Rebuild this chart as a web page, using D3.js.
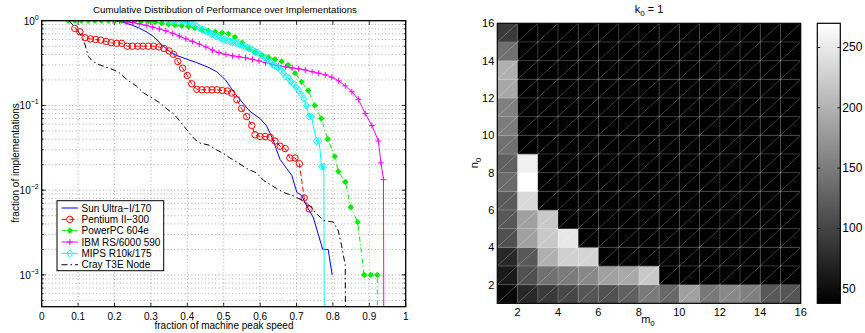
<!doctype html>
<html>
<head>
<meta charset="utf-8">
<title>Performance over implementations</title>
<script src="https://cdn.jsdelivr.net/npm/d3@7"></script>
<style>
body{margin:0;background:#fff;}
text{font-family:"Liberation Sans",Arial,sans-serif;fill:#000;}
</style>
</head>
<body>
<script>

var w = 865, h = 333;

// CUMULATIVE DISTRIBUTIONS  [fraction of peak, fraction of implementations]
var sunUltra = [[0.196,1],[0.215,0.98],[0.233,0.93],[0.25,0.88],[0.27,0.81],[0.29,0.73],[0.307,0.65],[0.325,0.55],[0.334,0.50],[0.352,0.43],[0.37,0.39],[0.4,0.35],[0.426,0.32],[0.455,0.285],[0.481,0.25],[0.505,0.2],[0.526,0.147],[0.55,0.11],[0.572,0.085],[0.6,0.07],[0.618,0.057],[0.635,0.04],[0.645,0.03],[0.655,0.023],[0.673,0.018],[0.687,0.015],[0.701,0.0094],[0.714,0.0087],[0.728,0.0065],[0.746,0.0048],[0.76,0.003],[0.772,0.002],[0.787,0.002],[0.798,0.001]];

var pentium = [[0.091,0.81],[0.105,0.74],[0.119,0.63],[0.134,0.61],[0.148,0.60],[0.162,0.59],[0.177,0.57],[0.191,0.55],[0.206,0.54],[0.22,0.54],[0.235,0.50],[0.249,0.50],[0.264,0.50],[0.278,0.50],[0.293,0.50],[0.307,0.50],[0.322,0.49],[0.336,0.47],[0.35,0.44],[0.362,0.40],[0.374,0.33],[0.387,0.275],[0.40,0.226],[0.412,0.18],[0.426,0.155],[0.44,0.153],[0.454,0.153],[0.468,0.153],[0.482,0.153],[0.496,0.15],[0.51,0.148],[0.522,0.14],[0.536,0.117],[0.549,0.092],[0.563,0.074],[0.577,0.058],[0.586,0.045],[0.6,0.043],[0.614,0.043],[0.628,0.042],[0.641,0.038],[0.655,0.033],[0.669,0.031],[0.682,0.024],[0.696,0.024],[0.708,0.0205],[0.721,0.0081],[0.735,0.006]];

var powerPC = [[0.073,1],[0.091,1],[0.109,1],[0.128,1],[0.146,1],[0.164,1],[0.183,1],[0.201,1],[0.219,1],[0.238,1],[0.256,1],[0.274,0.99],[0.293,0.98],[0.311,0.96],[0.33,0.93],[0.348,0.91],[0.366,0.89],[0.385,0.87],[0.403,0.85],[0.421,0.82],[0.44,0.78],[0.458,0.76],[0.476,0.74],[0.495,0.72],[0.513,0.70],[0.531,0.64],[0.55,0.55],[0.568,0.47],[0.586,0.42],[0.604,0.39],[0.623,0.37],[0.641,0.35],[0.659,0.33],[0.677,0.30],[0.696,0.24],[0.714,0.19],[0.732,0.15],[0.75,0.10],[0.768,0.07],[0.786,0.04],[0.805,0.025],[0.815,0.0166],[0.834,0.0125],[0.849,0.0063],[0.868,0.0042],[0.886,0.001],[0.904,0.001],[0.922,0.001],[0.923,0]];

var ibm = [[0.196,1],[0.214,0.99],[0.232,0.97],[0.25,0.95],[0.268,0.92],[0.287,0.88],[0.305,0.84],[0.323,0.80],[0.341,0.76],[0.36,0.71],[0.378,0.66],[0.396,0.61],[0.414,0.57],[0.433,0.53],[0.451,0.49],[0.469,0.45],[0.487,0.42],[0.506,0.40],[0.524,0.385],[0.542,0.375],[0.56,0.365],[0.579,0.35],[0.597,0.335],[0.615,0.32],[0.633,0.305],[0.651,0.295],[0.67,0.285],[0.688,0.277],[0.706,0.27],[0.724,0.262],[0.743,0.25],[0.761,0.24],[0.779,0.23],[0.797,0.215],[0.816,0.195],[0.834,0.17],[0.852,0.145],[0.87,0.118],[0.889,0.08],[0.907,0.058],[0.925,0.038],[0.932,0.021],[0.939,0.0133],[0.941,0]];

var mips = [[0.348,1],[0.355,1],[0.362,1],[0.369,1],[0.376,1],[0.384,1],[0.391,0.99],[0.398,0.98],[0.405,0.96],[0.412,0.93],[0.419,0.9],[0.426,0.86],[0.433,0.82],[0.44,0.79],[0.447,0.77],[0.454,0.74],[0.461,0.72],[0.468,0.69],[0.475,0.67],[0.482,0.65],[0.489,0.63],[0.496,0.61],[0.503,0.60],[0.51,0.58],[0.517,0.57],[0.524,0.56],[0.531,0.55],[0.538,0.54],[0.545,0.52],[0.552,0.51],[0.559,0.49],[0.566,0.48],[0.573,0.47],[0.58,0.45],[0.587,0.43],[0.594,0.42],[0.601,0.40],[0.608,0.38],[0.615,0.36],[0.622,0.34],[0.629,0.32],[0.636,0.30],[0.643,0.29],[0.65,0.28],[0.657,0.26],[0.664,0.24],[0.671,0.22],[0.678,0.21],[0.685,0.19],[0.692,0.18],[0.699,0.165],[0.706,0.15],[0.713,0.135],[0.72,0.12],[0.727,0.10],[0.734,0.074],[0.741,0.074],[0.755,0.038],[0.762,0.038],[0.769,0.019],[0.775,0.019],[0.778,0]];

var crayT3E = [[0.075,1],[0.09,0.85],[0.105,0.7],[0.115,0.6],[0.122,0.47],[0.128,0.38],[0.14,0.33],[0.16,0.30],[0.19,0.27],[0.21,0.25],[0.235,0.2],[0.26,0.17],[0.28,0.14],[0.3,0.125],[0.325,0.107],[0.345,0.09],[0.362,0.08],[0.38,0.065],[0.398,0.052],[0.42,0.04],[0.435,0.036],[0.46,0.034],[0.48,0.03],[0.5,0.027],[0.517,0.024],[0.54,0.021],[0.563,0.018],[0.59,0.016],[0.61,0.013],[0.627,0.0117],[0.645,0.0105],[0.664,0.0094],[0.691,0.0086],[0.71,0.0078],[0.737,0.0065],[0.755,0.0053],[0.774,0.0044],[0.801,0.0042],[0.815,0.0033],[0.824,0.0022],[0.834,0.0013],[0.836,0]];

var seriesNames = ["Sun Ultra\u2212I/170","Pentium II\u2212300","PowerPC 604e","IBM RS/6000 590","MIPS R10k/175","Cray T3E Node"];
var xTicks = [0,0.1,0.2,0.3,0.4,0.5,0.6,0.7,0.8,0.9,1];
var yTicks = [1,0.1,0.01,0.001];
var yTickExp = ["0","\u22121","\u22122","\u22123"];

// HEATMAP  rows n0 = 1..15, columns m0 = 1..15
var heatRows = [
  [45,74,91,103,115,111,125,149,133,184,147,162,154,118,115],
  [62,111,140,149,162,184,191,220,38,38,38,38,38,38,38],
  [74,118,198,227,231,38,38,38,38,38,38,38,38,38,38],
  [111,184,220,249,38,38,38,38,38,38,38,38,38,38,38],
  [118,184,220,38,38,38,38,38,38,38,38,38,38,38,38],
  [120,235,38,38,38,38,38,38,38,38,38,38,38,38,38],
  [134,270,38,38,38,38,38,38,38,38,38,38,38,38,38],
  [125,256,38,38,38,38,38,38,38,38,38,38,38,38,38],
  [140,38,38,38,38,38,38,38,38,38,38,38,38,38,38],
  [151,38,38,38,38,38,38,38,38,38,38,38,38,38,38],
  [154,38,38,38,38,38,38,38,38,38,38,38,38,38,38],
  [191,38,38,38,38,38,38,38,38,38,38,38,38,38,38],
  [198,38,38,38,38,38,38,38,38,38,38,38,38,38,38],
  [140,38,38,38,38,38,38,38,38,38,38,38,38,38,38],
  [91,38,38,38,38,38,38,38,38,38,38,38,38,38,38]
];
var mTicks = [2,4,6,8,10,12,14,16];
var nTicks = [2,4,6,8,10,12,14,16];
var cbTicks = [50,100,150,200,250];
var cbRange = [38,270];


//CREATING SVG
var svg = d3.select("body").append("svg").attr("width", w).attr("height", h);


//LEFT PLOT SCALES
var L = {left:41.7, right:405.7, top:20.7, bottom:306.7};
var x = d3.scaleLinear().domain([0,1]).range([L.left, L.right]);
var y = d3.scaleLog().domain([Math.pow(10,-3.375),1]).range([L.bottom, L.top]);

svg.append("clipPath").attr("id","clipL").append("rect")
   .attr("x",L.left).attr("y",L.top).attr("width",L.right-L.left).attr("height",L.bottom-L.top);

//GRID
var minorVals = [];
for (var k=-4; k<=0; k++){
	for (var m=1; m<10; m++){
		var v = m*Math.pow(10,k);
		if (v>y.domain()[0] && v<1) minorVals.push(v);
	}
}
svg.append("g").selectAll("line").data(minorVals).enter().append("line")
   .attr("x1",L.left).attr("x2",L.right)
   .attr("y1",function(d){return y(d);}).attr("y2",function(d){return y(d);})
   .attr("stroke","#888").attr("stroke-width",0.7).attr("stroke-dasharray","1,2.4");
svg.append("g").selectAll("line").data(xTicks.slice(1,-1)).enter().append("line")
   .attr("y1",L.top).attr("y2",L.bottom)
   .attr("x1",function(d){return x(d);}).attr("x2",function(d){return x(d);})
   .attr("stroke","#888").attr("stroke-width",0.7).attr("stroke-dasharray","1,2.4");

//TICKS
var tk = svg.append("g").attr("stroke","#000").attr("stroke-width",0.8);
xTicks.forEach(function(d){
	tk.append("line").attr("x1",x(d)).attr("x2",x(d)).attr("y1",L.bottom).attr("y2",L.bottom-4);
	tk.append("line").attr("x1",x(d)).attr("x2",x(d)).attr("y1",L.top).attr("y2",L.top+4);
});
minorVals.forEach(function(d){
	tk.append("line").attr("x1",L.left).attr("x2",L.left+2).attr("y1",y(d)).attr("y2",y(d));
	tk.append("line").attr("x1",L.right).attr("x2",L.right-2).attr("y1",y(d)).attr("y2",y(d));
});
yTicks.forEach(function(d){
	tk.append("line").attr("x1",L.left).attr("x2",L.left+4).attr("y1",y(d)).attr("y2",y(d));
	tk.append("line").attr("x1",L.right).attr("x2",L.right-4).attr("y1",y(d)).attr("y2",y(d));
});

svg.append("g").selectAll("text").data(xTicks).enter().append("text")
   .text(function(d){return d;})
   .attr("x",function(d){return x(d);}).attr("y",L.bottom+13)
   .attr("font-size","10px").attr("text-anchor","middle");

var yl = svg.append("g").selectAll("text").data(yTicks).enter().append("text")
   .attr("x",L.left-3).attr("y",function(d){return y(d)+4;})
   .attr("font-size","10px").attr("text-anchor","end");
yl.append("tspan").text("10");
yl.append("tspan").text(function(d,i){return yTickExp[i];})
   .attr("font-size","7px").attr("dy","-5");

//CURVES
var line = d3.line()
	.x(function(d){return x(d[0]);})
	.y(function(d){return y(Math.max(d[1],1e-6));});

var seriesData = [sunUltra, pentium, powerPC, ibm, mips, crayT3E];
var colours = ["#0000ff","#ff0000","#00ee00","#ff00ff","#00ffff","#000000"];
var dashes = [null,"5,3","5,2.5,1,2.5",null,null,"6,3,1.5,3"];
var markers = [null,"circle","dot","plus","diamond",null];

function drawMarker(g, type, cx, cy, col){
	if(type=="circle"){
		g.append("circle").attr("cx",cx).attr("cy",cy).attr("r",3.2)
		 .attr("fill","none").attr("stroke",col).attr("stroke-width",1);
	}else if(type=="dot"){
		g.append("circle").attr("cx",cx).attr("cy",cy).attr("r",2.4).attr("fill",col);
		g.append("path").attr("d","M"+(cx-3)+","+cy+"h6M"+cx+","+(cy-3)+"v6")
		 .attr("stroke",col).attr("stroke-width",1);
	}else if(type=="plus"){
		g.append("path").attr("d","M"+(cx-3)+","+cy+"h6M"+cx+","+(cy-3)+"v6")
		 .attr("stroke",col).attr("stroke-width",1);
	}else if(type=="diamond"){
		g.append("path").attr("d","M"+cx+","+(cy-3.6)+"L"+(cx+3)+","+cy+"L"+cx+","+(cy+3.6)+"L"+(cx-3)+","+cy+"Z")
		 .attr("fill","none").attr("stroke",col).attr("stroke-width",1);
	}
}

var plotG = svg.append("g").attr("clip-path","url(#clipL)");
seriesData.forEach(function(ds,i){
	plotG.append("path").attr("d",line(ds)).attr("fill","none")
	   .attr("stroke",colours[i]).attr("stroke-width",1)
	   .attr("stroke-dasharray",dashes[i]);
	if(markers[i]){
		ds.forEach(function(d){
			if(d[1]>0) drawMarker(plotG, markers[i], x(d[0]), y(d[1]), colours[i]);
		});
	}
});

//BOX
svg.append("rect").attr("x",L.left).attr("y",L.top)
   .attr("width",L.right-L.left).attr("height",L.bottom-L.top)
   .attr("fill","none").attr("stroke","#000").attr("stroke-width",1.3);

//LEGEND
var lg = svg.append("g");
lg.append("rect").attr("x",57).attr("y",200.7).attr("width",106.7).attr("height",70)
  .attr("fill","#fff").attr("stroke","#000").attr("stroke-width",1);
seriesNames.forEach(function(name,i){
	var ly = 208 + i*11.35;
	lg.append("line").attr("x1",61.5).attr("x2",78).attr("y1",ly).attr("y2",ly)
	  .attr("stroke",colours[i]).attr("stroke-width",1).attr("stroke-dasharray",dashes[i]);
	if(markers[i]) drawMarker(lg, markers[i], 69.8, ly, colours[i]);
	lg.append("text").text(name).attr("x",81.5).attr("y",ly+3.6).attr("font-size","10px");
});

//LABELS
svg.append("text").text("Cumulative Distribution of Performance over Implementations")
   .attr("x",225).attr("y",13).attr("font-size","9.7px").attr("text-anchor","middle");
svg.append("text").text("fraction of machine peak speed")
   .attr("x",224).attr("y",329).attr("font-size","10px").attr("text-anchor","middle");
svg.append("text").text("fraction of implementations")
   .attr("transform","translate(18.5,163) rotate(-90)")
   .attr("font-size","10px").attr("text-anchor","middle");


//RIGHT PLOT (HEATMAP)
var R = {left:497.3, right:800.7, top:23.3, bottom:303.3};
var mx = d3.scaleLinear().domain([1,16]).range([R.left, R.right]);
var ny = d3.scaleLinear().domain([1,16]).range([R.bottom, R.top]);
var gray = d3.scaleLinear().domain(cbRange).range(["#000","#fff"]).clamp(true);

var cells = [];
heatRows.forEach(function(row,i){
	row.forEach(function(v,j){ cells.push({m:j+1, n:i+1, v:v}); });
});

var hm = svg.append("g");
hm.selectAll("rect").data(cells).enter().append("rect")
  .attr("x",function(d){return mx(d.m);})
  .attr("y",function(d){return ny(d.n+1);})
  .attr("width",function(d){return mx(d.m+1)-mx(d.m)+0.3;})
  .attr("height",function(d){return ny(d.n)-ny(d.n+1)+0.3;})
  .attr("fill",function(d){return gray(d.v);});

//MESH
var gridVals = d3.range(1,17);
hm.append("g").selectAll("line").data(gridVals).enter().append("line")
  .attr("x1",function(d){return mx(d);}).attr("x2",function(d){return mx(d);})
  .attr("y1",R.top).attr("y2",R.bottom)
  .attr("stroke","rgba(255,255,255,0.22)").attr("stroke-width",1);
hm.append("g").selectAll("line").data(gridVals).enter().append("line")
  .attr("y1",function(d){return ny(d);}).attr("y2",function(d){return ny(d);})
  .attr("x1",R.left).attr("x2",R.right)
  .attr("stroke","rgba(255,255,255,0.22)").attr("stroke-width",1);
hm.append("g").selectAll("line").data(cells).enter().append("line")
  .attr("x1",function(d){return mx(d.m);}).attr("y1",function(d){return ny(d.n);})
  .attr("x2",function(d){return mx(d.m+1);}).attr("y2",function(d){return ny(d.n+1);})
  .attr("stroke","rgba(255,255,255,0.3)").attr("stroke-width",0.8);

svg.append("rect").attr("x",R.left).attr("y",R.top)
   .attr("width",R.right-R.left).attr("height",R.bottom-R.top)
   .attr("fill","none").attr("stroke","#000").attr("stroke-width",1.2);

svg.append("g").selectAll("text").data(mTicks).enter().append("text")
   .text(function(d){return d;})
   .attr("x",function(d){return mx(d);}).attr("y",R.bottom+13)
   .attr("font-size","11px").attr("text-anchor","middle");
svg.append("g").selectAll("text").data(nTicks).enter().append("text")
   .text(function(d){return d;})
   .attr("x",R.left-3).attr("y",function(d){return ny(d)+4;})
   .attr("font-size","11px").attr("text-anchor","end");

var t1 = svg.append("text").attr("x",649).attr("y",13).attr("font-size","11px").attr("text-anchor","middle");
t1.append("tspan").text("k");
t1.append("tspan").text("0").attr("font-size","8px").attr("dy","3");
t1.append("tspan").text(" = 1").attr("dy","-3");

var t2 = svg.append("text").attr("x",648).attr("y",323).attr("font-size","11px").attr("text-anchor","middle");
t2.append("tspan").text("m");
t2.append("tspan").text("0").attr("font-size","8px").attr("dy","3");

var t3 = svg.append("text").attr("transform","translate(478,163) rotate(-90)")
   .attr("font-size","11px").attr("text-anchor","middle");
t3.append("tspan").text("n");
t3.append("tspan").text("0").attr("font-size","8px").attr("dy","3");


//COLORBAR
var CB = {left:817.3, right:840.3, top:23.3, bottom:303.3};
var cy = d3.scaleLinear().domain(cbRange).range([CB.bottom, CB.top]);
var grad = svg.append("defs").append("linearGradient").attr("id","cbGrad")
   .attr("x1","0").attr("y1","1").attr("x2","0").attr("y2","0");
grad.append("stop").attr("offset","0").attr("stop-color",gray(cbRange[0]));
grad.append("stop").attr("offset","1").attr("stop-color",gray(cbRange[1]));
svg.append("rect").attr("x",CB.left).attr("y",CB.top)
   .attr("width",CB.right-CB.left).attr("height",CB.bottom-CB.top)
   .attr("fill","url(#cbGrad)").attr("stroke","#000").attr("stroke-width",1.2);
var cbt = svg.append("g").attr("stroke","#000").attr("stroke-width",0.8);
cbTicks.forEach(function(d){
	cbt.append("line").attr("x1",CB.left).attr("x2",CB.left+3).attr("y1",cy(d)).attr("y2",cy(d));
	cbt.append("line").attr("x1",CB.right).attr("x2",CB.right-3).attr("y1",cy(d)).attr("y2",cy(d));
});
svg.append("g").selectAll("text").data(cbTicks).enter().append("text")
   .text(function(d){return d;})
   .attr("x",CB.right+2).attr("y",function(d){return cy(d)+4;})
   .attr("font-size","12px");

</script>
</body>
</html>
